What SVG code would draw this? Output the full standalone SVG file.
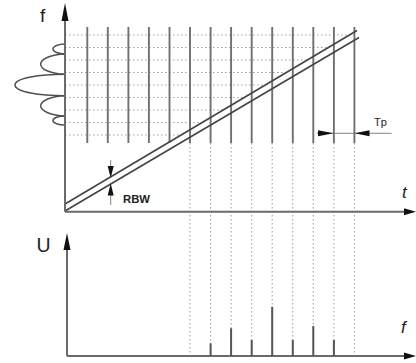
<svg xmlns="http://www.w3.org/2000/svg" width="416" height="363" viewBox="0 0 416 363">
<style>
.ax{stroke:#6a6a6a;stroke-width:2;fill:none}
.sol{stroke:#707070;stroke-width:1.9;fill:none}
.dot{stroke:#a0a0a0;stroke-width:1.1;stroke-dasharray:1.5 2.5;fill:none}
.ramp{stroke:#444;stroke-width:1.6;fill:none}
.lobe{stroke:#505050;stroke-width:1.5;fill:none}
.ah{fill:#111;stroke:none}
.thin{stroke:#777;stroke-width:0.9;fill:none}
.spec{stroke:#555;stroke-width:2;fill:none}
.lbl{font-family:"Liberation Sans",Arial,sans-serif;fill:#222}
</style>
<rect width="416" height="363" fill="#fff"/>
<g id="grid">
<path class="dot" d="M65 35H348.6 M65 47.5H327.6 M65 60H306.6 M65 72.5H285.6 M65 85H264.7 M65 97.5H243.7 M65 110H222.7 M65 122.5H201.7 M65 135H180.8"/>
<path class="dot" d="M190 143V356 M210.6 143V356 M231.1 143V356 M251.7 143V356 M272.2 143V356 M292.8 143V356 M313.3 143V356 M333.9 143V356 M354.4 143V356"/>
<path class="sol" d="M87.3 27V143 M107.8 27V143 M128.4 27V143 M148.9 27V143 M169.5 27V143 M190 27V143 M210.6 27V143 M231.1 27V143 M251.7 27V143 M272.2 27V143 M292.8 27V143 M313.3 27V143 M333.9 27V143 M354.4 27V143"/>
</g>
<g id="lobes">
<path class="lobe" d="M65 44 A12 5 0 0 0 65 54"/>
<path class="lobe" d="M65 54 A27 10.2 0 0 0 65 74.3"/>
<path class="lobe" d="M65 74.3 C40 74.3 15 78 15 85 C15 92 40 95.7 65 95.7"/>
<path class="lobe" d="M65 95.7 A27 10.2 0 0 0 65 116"/>
<path class="lobe" d="M65 116 A12 4.5 0 0 0 65 125"/>
</g>
<g id="ramp">
<path class="ramp" d="M65 204L357 30.5"/>
<path class="ramp" d="M65 211L359 37.5"/>
</g>
<g id="upper-axes">
<path class="ax" d="M65 211.7V20 M65 211.7H405"/>
<path class="ah" d="M65 3L68.5 21H61.5Z"/>
<path class="ah" d="M416 211.7L404 208.2V215.2Z"/>
<text class="lbl" x="40" y="21.7" font-size="19">f</text>
<text class="lbl" x="402" y="198.3" font-size="17" font-style="italic">t</text>
</g>
<g id="rbw">
<path class="thin" d="M110.7 160V170 M110.7 192V205"/>
<path class="ah" d="M110.7 178L107.7 166H113.7Z"/>
<path class="ah" d="M110.7 183.5L107.7 195.5H113.7Z"/>
<text class="lbl" x="123" y="203.3" font-size="11.3" font-weight="bold">RBW</text>
</g>
<g id="tp">
<path class="thin" d="M316.7 133.3H391.7"/>
<path class="ah" d="M333.6 133.3L318 130.3V136.3Z"/>
<path class="ah" d="M354.6 133.3L369.5 130.3V136.3Z"/>
<text class="lbl" x="374" y="126" font-size="11">Tp</text>
</g>
<g id="lower-axes">
<path class="ax" d="M67 356V249 M67 356H405"/>
<path class="ah" d="M67 233L70.5 250H63.5Z"/>
<path class="ah" d="M416 356L404 352.5V359.5Z"/>
<text class="lbl" x="36.5" y="252" font-size="19.5">U</text>
<text class="lbl" x="401" y="333.3" font-size="17" font-style="italic">f</text>
</g>
<g id="spectrum">
<path class="spec" d="M210.6 356V343.3 M231.1 356V328.3 M251.7 356V340 M272.2 356V306.7 M292.8 356V340 M313.3 356V326 M333.9 356V340"/>
</g>
</svg>
